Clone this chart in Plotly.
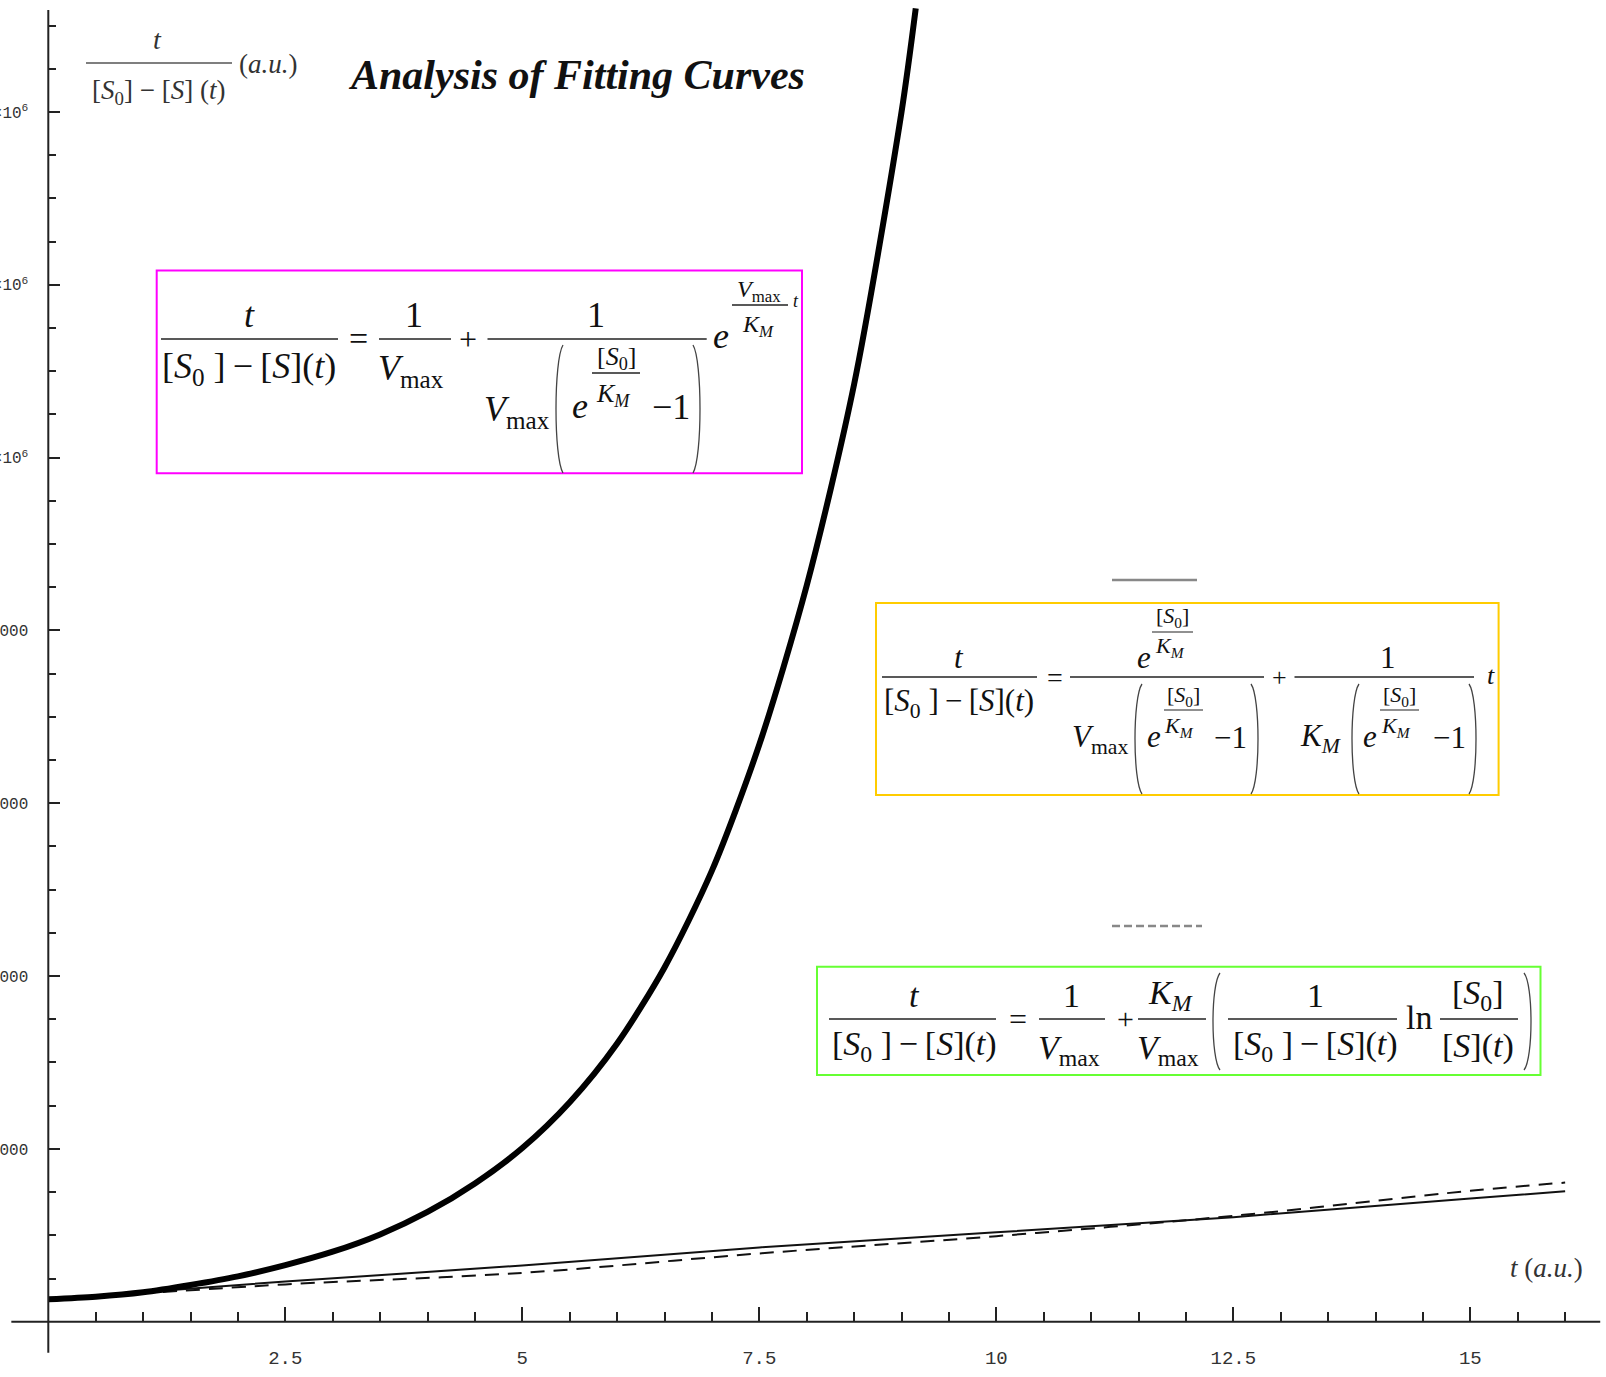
import plotly.graph_objects as go

# ---------------- data ----------------
t_exp = [0, 0.5, 1.0, 1.5, 2.0, 2.5, 3.0, 3.5, 4.0, 4.5, 5.0, 5.5, 6.0, 6.5,
         7.0, 7.5, 8.0, 8.5, 9.0, 9.15]
v_exp = [25900, 28900, 34000, 42500, 52500, 65500, 81000, 101000, 127000, 160000,
         201000, 254000, 322000, 410000, 522000, 668000, 852000, 1085000, 1400000,
         1520000]

t_lin = [0, 2.5, 5.0, 7.5, 10.0, 12.5, 15.0, 16.0]
v_lin = [26000, 46500, 65000, 86000, 103500, 121000, 142500, 151000]

t_dash = [0, 1.0, 2.5, 5.0, 7.5, 10.0, 12.5, 15.0, 16.0]
v_dash = [27000, 33000, 43200, 56500, 79000, 99000, 122500, 151500, 161000]

x_tick_vals = [2.5, 5, 7.5, 10, 12.5, 15]
x_tick_text = ["2.5", "5", "7.5", "10", "12.5", "15"]
y_tick_vals = [200000, 400000, 600000, 800000, 1000000, 1200000, 1400000]
y_tick_text = ["200000", "400000", "600000", "800000",
               "1×10<sup>6</sup>", "1.2×10<sup>6</sup>", "1.4×10<sup>6</sup>"]
x_minor = [0.5 * k for k in range(1, 33) if k % 5 != 0]
y_minor = [50000 * k for k in range(1, 31) if k % 4 != 0]

XR = [-0.5095, 16.431]
YR = [-64000, 1529700]

W, H = 1606, 1377


def px(x):
    return x / W


def py(y):
    return 1 - y / H


fig = go.Figure()
fig.add_trace(go.Scatter(x=t_dash, y=v_dash, mode="lines",
                         line=dict(color="#111", width=2, dash="14px,9px", shape="spline")))
fig.add_trace(go.Scatter(x=t_lin, y=v_lin, mode="lines",
                         line=dict(color="#111", width=2)))
fig.add_trace(go.Scatter(x=t_exp, y=v_exp, mode="lines",
                         line=dict(color="#000", width=6, shape="spline", smoothing=0.8)))

ann = []
shapes = []
SERIF = "Liberation Serif"
TS = "\u2009"  # thin space


def T(x, y, s, size=30, color="#111", xanchor="center", family=SERIF):
    ann.append(dict(x=px(x), y=py(y), xref="paper", yref="paper", text=s,
                    showarrow=False, xanchor=xanchor, yanchor="middle",
                    font=dict(family=family, size=size, color=color)))


def HL(x0, x1, y, w=1.6, color="#222", dash=None):
    ln = dict(color=color, width=w)
    if dash:
        ln["dash"] = dash
    shapes.append(dict(type="line", xref="paper", yref="paper",
                       x0=px(x0), x1=px(x1), y0=py(y), y1=py(y), line=ln))


def paren(x, top, bot, left=True, d=7, color="#444", w=1.3):
    h = bot - top
    if left:
        x0 = x + d
        c = x - d / 3
    else:
        x0 = x - d
        c = x + d / 3
    p = (f"M {px(x0)},{py(top)} C {px(c)},{py(top + 0.12 * h)} "
         f"{px(c)},{py(bot - 0.12 * h)} {px(x0)},{py(bot)}")
    shapes.append(dict(type="path", xref="paper", yref="paper", path=p,
                       line=dict(color=color, width=w)))


def box(x0, y0, x1, y1, color):
    shapes.append(dict(type="rect", xref="paper", yref="paper",
                       x0=px(x0), x1=px(x1), y0=py(y1), y1=py(y0),
                       line=dict(color=color, width=2)))


DEN = f"[<i>S</i><sub>0</sub> ]{TS}−{TS}[<i>S</i>](<i>t</i>)"
VMAX = "<i>V</i><sub>max</sub>"
KM = "<i>K</i><sub><i>M</i></sub>"
S0 = "[<i>S</i><sub>0</sub>]"

# ---------- title and axis captions ----------
T(576, 75, "<b><i>Analysis of Fitting Curves</i></b>", 42, "#111")
T(157, 40, "<i>t</i>", 28, "#333")
HL(86, 232, 63, 1.6, "#555")
T(158, 92, "[<i>S</i><sub>0</sub>] − [<i>S</i>] (<i>t</i>)", 27, "#333")
T(237, 64, "(<i>a.u.</i>)", 27, "#333", xanchor="left")
T(1508, 1268, "<i>t</i> (<i>a.u.</i>)", 27, "#333", xanchor="left")

# ---------- box 1 (magenta) ----------
box(156.7, 270.4, 802, 473.2, "#ff00ff")
T(249, 315, "<i>t</i>", 36)
HL(161, 338, 339)
T(249, 368, DEN, 36)
T(358.5, 339, "=", 34)
T(414, 315, "1", 36)
HL(379, 451, 339)
T(411, 370, VMAX, 36)
T(468, 339, "+", 32)
T(596, 315, "1", 36)
HL(487.5, 706.7, 339)
T(517, 411, VMAX, 36)
paren(556, 345, 473, True)
T(580, 406, "<i>e</i>", 36)
T(616, 358, S0, 26)
HL(592, 640, 373, 1.3)
T(613, 395, KM, 26)
T(671, 407, "−1", 36)
paren(700, 345, 473, False)
T(721, 336, "<i>e</i>", 36)
T(759, 291, VMAX, 24)
HL(732, 788, 305, 1.3)
T(758, 326, KM, 24)
T(796, 301, "<i>t</i>", 18)

# ---------- box 2 (yellow) ----------
HL(1112, 1197, 580, 2.5, "#888")
box(876, 603, 1498.6, 795, "#ffcc00")
T(959, 657, "<i>t</i>", 31)
HL(882, 1037, 677)
T(959, 703, DEN, 31)
T(1055, 677, "=", 28)
T(1144, 657, "<i>e</i>", 31)
T(1172, 617, S0, 22)
HL(1152, 1193, 632, 1.2)
T(1170, 647, KM, 22)
HL(1070, 1264, 677)
T(1100, 739, VMAX, 31)
paren(1135, 684, 794, True)
T(1154, 736, "<i>e</i>", 31)
T(1183, 696, S0, 22)
HL(1164, 1203, 710, 1.2)
T(1179, 727, KM, 22)
T(1230, 737, "−1", 31)
paren(1258, 684, 794, False)
T(1279, 678, "+", 26)
T(1388, 657, "1", 31)
HL(1294.5, 1474, 677)
T(1321, 738, KM, 31)
paren(1352, 684, 794, True)
T(1370, 736, "<i>e</i>", 31)
T(1399, 696, S0, 22)
HL(1380, 1419, 710, 1.2)
T(1396, 727, KM, 22)
T(1449, 737, "−1", 31)
paren(1476, 684, 794, False)
T(1491, 676, "<i>t</i>", 26)

# ---------- box 3 (green) ----------
HL(1112, 1202, 926, 2.5, "#888", dash="8px,4px")
box(817, 966.7, 1540.5, 1075, "#66ff33")
T(914, 995, "<i>t</i>", 34)
HL(829, 996, 1019)
T(914, 1046, DEN, 34)
T(1018, 1019, "=", 32)
T(1071, 995, "1", 34)
HL(1039, 1105, 1019)
T(1069, 1050, VMAX, 34)
T(1125, 1019, "+", 30)
T(1170, 995, KM, 34)
HL(1138, 1206, 1019)
T(1168, 1050, VMAX, 34)
paren(1213, 973, 1070, True)
T(1315, 995, "1", 34)
HL(1228, 1397, 1019)
T(1315, 1046, DEN, 34)
T(1419, 1017, "ln", 34)
T(1478, 995, S0, 34)
HL(1440, 1518, 1019)
T(1478, 1046, "[<i>S</i>](<i>t</i>)", 34)
paren(1531, 973, 1070, False)

# ---------- axis lines ----------
shapes.append(dict(type="line", xref="x", yref="y", x0=-0.39, x1=16.37, y0=0, y1=0,
                   line=dict(color="#222", width=2)))
shapes.append(dict(type="line", xref="x", yref="y", x0=0, x1=0, y0=-36000, y1=1518000,
                   line=dict(color="#222", width=2)))

xpos = (0 - YR[0]) / (YR[1] - YR[0])
ypos = (0 - XR[0]) / (XR[1] - XR[0])

fig.update_layout(
    width=W, height=H,
    margin=dict(l=0, r=0, t=0, b=0, pad=0),
    paper_bgcolor="white", plot_bgcolor="white",
    showlegend=False,
    template="none",
    annotations=ann,
    shapes=shapes,
    xaxis=dict(range=XR, anchor="free", position=xpos, showgrid=False, zeroline=False,
               showline=False, automargin=False,
               tickmode="array", tickvals=x_tick_vals, ticktext=x_tick_text,
               ticks="inside", ticklen=15, tickwidth=2, tickcolor="#222",
               ticklabelstandoff=22,
               tickfont=dict(family="Liberation Mono", size=19, color="#333"),
               minor=dict(tickmode="array", tickvals=x_minor, ticks="inside",
                          ticklen=10, tickwidth=2, tickcolor="#222", showgrid=False)),
    yaxis=dict(range=YR, anchor="free", position=ypos, showgrid=False, zeroline=False,
               showline=False, automargin=False,
               tickmode="array", tickvals=y_tick_vals, ticktext=y_tick_text,
               ticks="inside", ticklen=11, tickwidth=2, tickcolor="#222",
               ticklabelstandoff=20,
               tickfont=dict(family="Liberation Mono", size=16, color="#333"),
               minor=dict(tickmode="array", tickvals=y_minor, ticks="inside",
                          ticklen=7, tickwidth=2, tickcolor="#222", showgrid=False)),
)

fig.write_html("out.html")
